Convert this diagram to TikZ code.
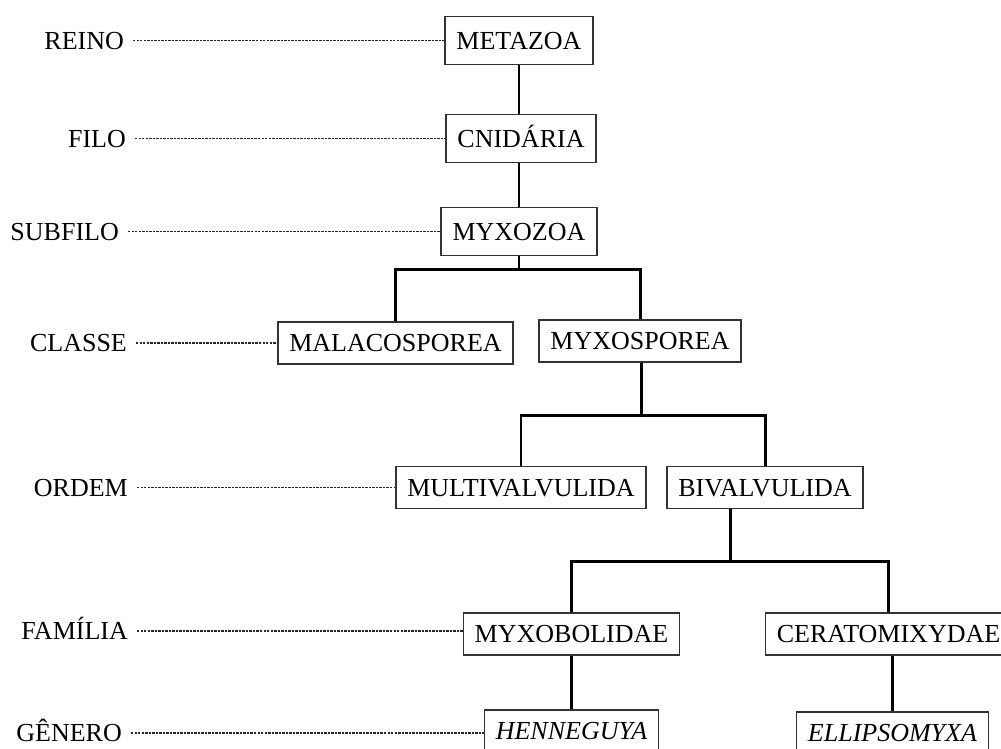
\documentclass[tikz,border=0pt]{standalone}
\usepackage{fontspec}
\setmainfont{Liberation Serif}

\begin{document}
\begin{tikzpicture}[x=0.02cm, y=-0.02cm,
    taxon/.style = {draw=black!80, line width=0.8pt, inner xsep=0.23cm, minimum height=0.84cm,
                    text height=9.8pt, text depth=0pt, font=\fontsize{14.8}{16}\selectfont},
    tall/.style = {minimum height=0.97cm},
    rank/.style = {anchor=east, inner xsep=5pt, text height=9.8pt, text depth=0pt,
                   font=\fontsize{14.8}{16}\selectfont},
    guide/.style = {line width=0.6pt, black!85, dash pattern=on 1.4pt off 0.6pt},
    branch/.style = {line width=1.7pt}]
    \useasboundingbox (0,0) rectangle (1001,748);
    \clip (0,0) rectangle (1001,748);

    \node[taxon, tall] (metazoa) at (519, 40.5) {METAZOA};
    \node[taxon, tall] (cnidaria) at (521, 138.5) {CNIDÁRIA};
    \node[taxon, tall] (myxozoa) at (519, 231.5) {MYXOZOA};
    \node[taxon] (malaco) at (395.5, 343) {MALACOSPOREA};
    \node[taxon] (myxosp) at (640, 341) {MYXOSPOREA};
    \node[taxon] (multiv) at (521, 487.5) {MULTIVALVULIDA};
    \node[taxon] (bival) at (765, 487.5) {BIVALVULIDA};
    \node[taxon] (myxobol) at (571.5, 634) {MYXOBOLIDAE};
    \node[taxon] (cerato) at (888.5, 634) {CERATOMIXYDAE};
    \node[taxon] (henneg) at (571.5, 731) {\textit{HENNEGUYA}};
    \node[taxon] (ellips) at (892.5, 733) {\textit{ELLIPSOMYXA}};

    \draw[branch] (metazoa.south) -- (metazoa.south |- cnidaria.north);
    \draw[branch] (myxozoa.north |- cnidaria.south) -- (myxozoa.north);

    \coordinate (fork1) at (519, 269);
    \draw[branch] (myxozoa) -- (fork1) -| (malaco);
    \draw[branch] (fork1) -| (myxosp);

    \coordinate (fork2) at (641, 415);
    \draw[branch] (fork2 |- myxosp.south) -- (fork2) -| (multiv);
    \draw[branch] (fork2) -| (bival);

    \coordinate (fork3) at (730, 561);
    \draw[branch] (fork3 |- bival.south) -- (fork3) -| (myxobol);
    \draw[branch] (fork3) -| (cerato);

    \draw[branch] (myxobol) -- (henneg);
    \draw[branch] (ellips.north |- cerato.south) -- (ellips.north);


    \node[rank] (reino) at (133, 40.5) {REINO};
    \node[rank] (filo) at (135, 138.5) {FILO};
    \node[rank] (subfilo) at (128, 231.5) {SUBFILO};
    \node[rank] (classe) at (136, 343) {CLASSE};
    \node[rank] (ordem) at (137, 487.5) {ORDEM};
    \node[rank] (familia) at (137, 631) {FAMÍLIA};
    \node[rank] (genero) at (131, 733) {GÊNERO};

    \draw[guide] (reino.east) -- (reino.east -| metazoa.west);
    \draw[guide] (filo.east) -- (filo.east -| cnidaria.west);
    \draw[guide] (subfilo.east) -- (subfilo.east -| myxozoa.west);
    \draw[guide] (classe.east) -- (classe.east -| malaco.west);
    \draw[guide] (ordem.east) -- (ordem.east -| multiv.west);
    \draw[guide] (familia.east) -- (familia.east -| myxobol.west);
    \draw[guide] (genero.east) -- (genero.east -| henneg.west);

\end{tikzpicture}
\end{document}
